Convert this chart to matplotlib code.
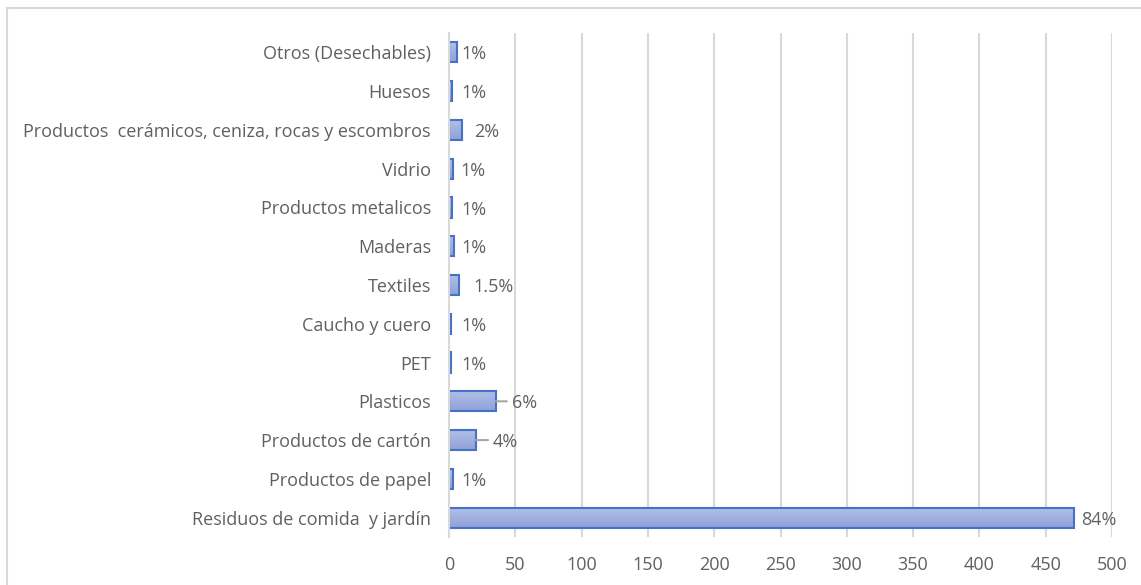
import matplotlib
matplotlib.use("Agg")
import matplotlib.pyplot as plt
import numpy as np
from matplotlib.colors import LinearSegmentedColormap
from matplotlib.patches import Rectangle

# Waste composition (bottom to top)
categories = [
    "Residuos de comida  y jardín",
    "Productos de papel",
    "Productos de cartón",
    "Plasticos",
    "PET",
    "Caucho y cuero",
    "Textiles",
    "Maderas",
    "Productos metalicos",
    "Vidrio",
    "Productos  cerámicos, ceniza, rocas y escombros",
    "Huesos",
    "Otros (Desechables)",
]
values = [471, 3.3, 20.4, 35.3, 1.7, 1.7, 7.5, 3.5, 2.5, 2.8, 10, 2.3, 6]
labels = ["84%", "1%", "4%", "6%", "1%", "1%", "1.5%", "1%", "1%", "1%", "2%", "1%", "1%"]
ticks = [0, 50, 100, 150, 200, 250, 300, 350, 400, 450, 500]

# label gap from bar end (pixels) and whether a leader line is drawn
label_gap = [8, 8, 17, 16, 10, 10, 14, 8, 9, 8, 12, 9, 4]
leader = [False, False, True, True, False, False, False, False, False, False, False, False, False]

TXT = "#606060"
FS = 13
plt.rcParams["font.family"] = ["Open Sans", "DejaVu Sans"]

fig = plt.figure(figsize=(11.41, 5.85), dpi=100)
W, H = 1141, 585
ax = fig.add_axes([449 / W, 1 - 537 / H, (1112 - 449) / W, (537 - 33) / H])

y = np.arange(len(categories))
bh = 0.52
bars = ax.barh(y, values, height=bh, facecolor="none", edgecolor="#4472C4",
               linewidth=1.5, zorder=3)

cmap = LinearSegmentedColormap.from_list("barfill", ["#8EA1D8", "#B3C0E7"])
grad = np.linspace(0, 1, 64).reshape(-1, 1)
for p in bars.patches:
    x0, y0, w, h = p.get_x(), p.get_y(), p.get_width(), p.get_height()
    ax.imshow(grad, extent=[x0, x0 + w, y0, y0 + h], origin="lower",
              aspect="auto", cmap=cmap, zorder=2, interpolation="bilinear")

ax.set_xlim(0, 500)
ax.set_ylim(-0.5, len(categories) - 0.5)
ax.set_xticks(ticks)
ax.set_yticks(y)
ax.set_yticklabels(categories)
ax.tick_params(axis="both", length=0, labelsize=FS, labelcolor=TXT)
ax.tick_params(axis="x", pad=13.5)
ax.tick_params(axis="y", pad=13)

ax.grid(axis="x", color="#D9D9D9", linewidth=1.5, zorder=0)
ax.set_axisbelow(True)
for s in ["top", "right", "bottom"]:
    ax.spines[s].set_visible(False)
ax.spines["left"].set_color("#D9D9D9")
ax.spines["left"].set_linewidth(1.5)
ax.spines["left"].set_zorder(4)

for p, lab, gap, ld in zip(bars.patches, labels, label_gap, leader):
    xe = p.get_x() + p.get_width()
    yc = p.get_y() + p.get_height() / 2
    ax.annotate(lab, xy=(xe, yc), xytext=(gap * 0.72, -1.5), textcoords="offset points",
                ha="left", va="center", fontsize=FS, color=TXT, zorder=5)
    if ld:
        ax.annotate("", xy=(xe, yc), xytext=((gap - 5) * 0.72, 0),
                    textcoords="offset points",
                    arrowprops=dict(arrowstyle="-", color="#A6A6A6", lw=1.5,
                                    shrinkA=0, shrinkB=0), zorder=5)

# outer chart frame
fig.patches.append(Rectangle((7 / W, -0.05), 1.1, 1 - 8 / H + 0.05,
                             transform=fig.transFigure, fill=False,
                             edgecolor="#D9D9D9", linewidth=1.5))

fig.savefig("out.png", dpi=100, facecolor="white")
